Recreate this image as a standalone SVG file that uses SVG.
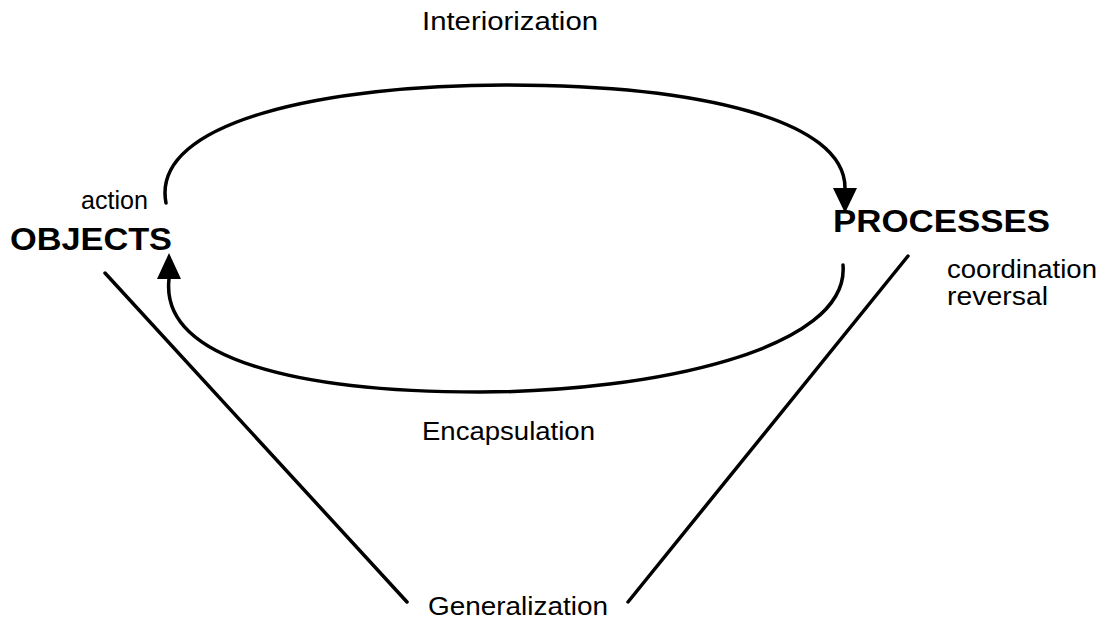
<svg xmlns="http://www.w3.org/2000/svg" width="1106" height="621" viewBox="0 0 1106 621">
<style>
.t{font-family:"Liberation Sans",Arial,sans-serif;font-size:25px;fill:#000}
.b{font-family:"Liberation Sans",Arial,sans-serif;font-size:32px;font-weight:bold;fill:#000}
.c{fill:none;stroke:#000;stroke-width:3.5;stroke-linecap:round}
</style>
<rect width="1106" height="621" fill="#fff"/>
<g id="connectors">
<path class="c" d="M166,203 C150,120 330,85 505,85 C700,85 845,120 845,188"/>
<path d="M833,188 L857,188 L845,213 Z" fill="#000"/>
<path class="c" d="M843,265 C850,350 650,392 480,392 C300,392 160,360 169,279"/>
<path d="M157,279 L181,279 L169,253 Z" fill="#000"/>
<line class="c" x1="105" y1="273" x2="407" y2="602"/>
<line class="c" x1="908" y1="256" x2="628" y2="602"/>
</g>
<g id="objects">
<text class="t" x="81" y="209" textLength="67" lengthAdjust="spacingAndGlyphs">action</text>
<text class="b" x="10" y="250" textLength="162" lengthAdjust="spacingAndGlyphs">OBJECTS</text>
</g>
<g id="processes">
<text class="b" x="833" y="232" textLength="217" lengthAdjust="spacingAndGlyphs">PROCESSES</text>
<text class="t" x="947" y="278" textLength="150" lengthAdjust="spacingAndGlyphs">coordination</text>
<text class="t" x="947" y="305" textLength="101" lengthAdjust="spacingAndGlyphs">reversal</text>
</g>
<g id="interiorization">
<text class="t" x="422" y="30" textLength="176" lengthAdjust="spacingAndGlyphs">Interiorization</text>
</g>
<g id="encapsulation">
<text class="t" x="422" y="440" textLength="173" lengthAdjust="spacingAndGlyphs">Encapsulation</text>
</g>
<g id="generalization">
<text class="t" x="428" y="615" textLength="180" lengthAdjust="spacingAndGlyphs">Generalization</text>
</g>
</svg>
